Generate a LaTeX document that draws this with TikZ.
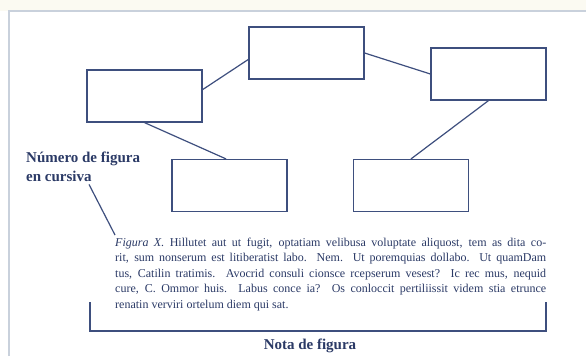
\documentclass[tikz,border=0pt]{standalone}
\usepackage{fontspec}
\setmainfont{Liberation Serif}
\usetikzlibrary{calc}
\definecolor{ink}{HTML}{2B3A66}
\definecolor{boxc}{HTML}{3E4F7E}
\definecolor{framec}{HTML}{C9D1DC}
\definecolor{creamc}{HTML}{FBFAF2}
\tikzset{
  boxst/.style={draw=boxc, line width=1.2pt, minimum width=115pt, minimum height=52pt, inner sep=0pt},
  link/.style={draw=boxc, line width=1.2pt},
  lbl/.style={text=ink, font=\bfseries\fontsize{15}{18}\selectfont, inner sep=0pt},
  captext/.style={text=ink, font=\fontsize{12}{14}\selectfont, inner sep=0pt, anchor=base west}
}
\begin{document}
\begin{tikzpicture}[x=1pt,y=-1pt]
\useasboundingbox (0,0) rectangle (586,356);
\fill[creamc] (0,0) rectangle (586,11);
\fill[white] (9,11) rectangle (586,356);
\draw[framec, line width=1.5pt] (9,356) -- (9,11) -- (586,11);
% boxes
\node[boxst] (A) at (144.5,96) {};
\node[boxst] (B) at (306.5,53) {};
\node[boxst] (C) at (488.5,74) {};
\node[boxst] (D) at (229.5,185.5) {};
\node[boxst] (E) at (411,185.5) {};
% connectors
\draw[link] ($(A.north east)!0.38!(A.south east)$) -- ($(B.north west)!0.62!(B.south west)$);
\draw[link] (B.east) -- (C.west);
\draw[link] (A.south) -- ($(D.north west)!0.47!(D.north east)$);
\draw[link] (C.south) -- (E.north);
% labels
\node[lbl, anchor=base west] (L1) at (26,162) {Número de figura};
\node[lbl, anchor=base west] (L2) at (26,181) {en cursiva};
% caption
\node[captext] (T1) at (115,246) {\makebox[431pt][s]{\textit{Figura X.} Hillutet aut ut fugit, optatiam velibusa voluptate aliquost, tem as dita co-}};
\node[captext] (T2) at (115,261.5) {\makebox[431pt][s]{rit, sum nonserum est litiberatist labo. Nem. Ut poremquias dollabo. Ut quamDam}};
\node[captext] (T3) at (115,277) {\makebox[431pt][s]{tus, Catilin tratimis. Avocrid consuli cionsce rcepserum vesest? Ic rec mus, nequid}};
\node[captext] (T4) at (115,292.5) {\makebox[431pt][s]{cure, C. Ommor huis. Labus conce ia? Os conloccit pertiliissit videm stia etrunce}};
\node[captext] (T5) at (115,308) {renatin verviri ortelum diem qui sat.};
% pointer
\coordinate (P) at (115,235);
\draw[link] ($(L2.south west)+(63,3)$) -- (P);
% bracket
\coordinate (K1) at (90,302);
\coordinate (K2) at (90,331);
\coordinate (K3) at (546,331);
\coordinate (K4) at (546,302);
\draw[link, line width=1.4pt] (K1) -- (K2) -- (K3) -- (K4);
\node[lbl, anchor=base] (N) at (310,349) {Nota de figura};
\end{tikzpicture}
\end{document}
